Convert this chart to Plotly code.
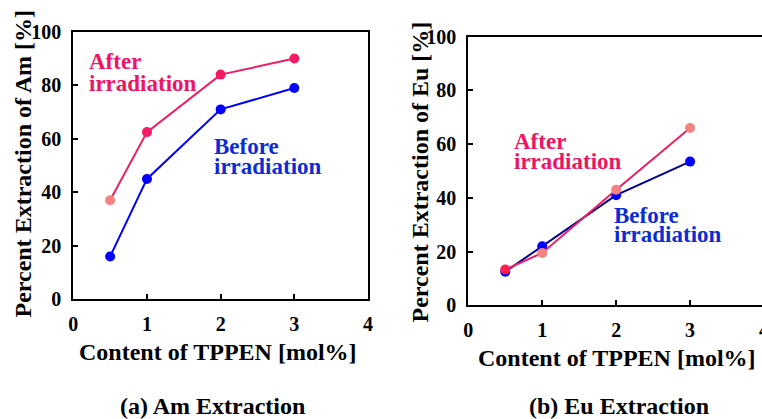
import plotly.graph_objects as go

# TPPEN content [mol%]
content = [0.5, 1, 2, 3]

# Am extraction [%]
am_before = [16, 45, 71, 79]
am_after = [37, 62.5, 84, 90]

# Eu extraction [%]
eu_before = [12.5, 22, 41, 53.5]
eu_after = [13.3, 19.5, 43, 66]

x_ticks = [0, 1, 2, 3, 4]
y_ticks = [0, 20, 40, 60, 80, 100]

PINK = "rgb(240,28,100)"
SALMON = "rgb(244,130,128)"
BLUE = "rgb(0,0,255)"
NAVY = "rgb(0,0,140)"
TXT_PINK = "rgb(238,20,100)"
TXT_BLUE = "rgb(12,44,214)"
FONT = "Liberation Serif, Times New Roman, serif"

W, H = 770, 419


def px(x):
    return x / W


def py(y):
    return 1 - y / H


fig = go.Figure()

# (a) Am panel
fig.add_trace(go.Scatter(
    x=content, y=am_after, mode="lines+markers", xaxis="x", yaxis="y",
    line=dict(color=PINK, width=2),
    marker=dict(size=10, color=[SALMON, PINK, PINK, PINK]),
    showlegend=False))
fig.add_trace(go.Scatter(
    x=content, y=am_before, mode="lines+markers", xaxis="x", yaxis="y",
    line=dict(color=BLUE, width=2),
    marker=dict(size=10, color=BLUE),
    showlegend=False))

# (b) Eu panel
fig.add_trace(go.Scatter(
    x=content, y=eu_before, mode="lines+markers", xaxis="x2", yaxis="y2",
    line=dict(color=NAVY, width=2),
    marker=dict(size=10, color=BLUE),
    showlegend=False))
fig.add_trace(go.Scatter(
    x=content, y=eu_after, mode="lines+markers", xaxis="x2", yaxis="y2",
    line=dict(color=PINK, width=2),
    marker=dict(size=10, color=["rgb(255,30,80)", SALMON, SALMON, SALMON]),
    showlegend=False))

tick_font = dict(family=FONT, size=20, color="black", weight="bold")
axis_common = dict(
    showline=True, linecolor="black", linewidth=2, mirror=True,
    ticks="inside", ticklen=5, tickwidth=1.5, tickcolor="black",
    showgrid=False, zeroline=False, tickfont=tick_font, fixedrange=True,
    automargin=False,
)

fig.update_layout(
    width=W, height=H, autosize=False,
    margin=dict(l=0, r=0, t=0, b=0, pad=0, autoexpand=False),
    paper_bgcolor="white", plot_bgcolor="white",
    xaxis=dict(domain=[px(73.3), px(368)], range=[0, 4], tickvals=x_ticks,
               ticklabelstandoff=6, anchor="y", **axis_common),
    yaxis=dict(domain=[py(299.3), py(31.8)], range=[0, 100], tickvals=y_ticks,
               ticklabelstandoff=6, anchor="x", **axis_common),
    xaxis2=dict(domain=[px(468.3), px(764)], range=[0, 4], tickvals=x_ticks,
                ticklabelstandoff=6, anchor="y2", **axis_common),
    yaxis2=dict(domain=[py(305.3), py(36.7)], range=[0, 100], tickvals=y_ticks,
                ticklabelstandoff=6, anchor="x2", **axis_common),
)

title_font = dict(family=FONT, size=24, color="black", weight="bold")
label_font = dict(family=FONT, size=23, weight="bold")

annotations = [
    # axis titles
    dict(text="Percent Extraction of Am [%]", x=px(22), y=py(164.5), textangle=-90),
    dict(text="Percent Extraction of Eu [%]", x=px(419), y=py(172.5), textangle=-90),
    dict(text="Content of TPPEN [mol%]", x=px(218), y=py(352)),
    dict(text="Content of TPPEN [mol%]", x=px(616.5), y=py(358)),
    # panel captions
    dict(text="(a) Am Extraction", x=px(213), y=py(406)),
    dict(text="(b) Eu Extraction", x=px(619), y=py(406)),
]
for a in annotations:
    a.update(xref="paper", yref="paper", xanchor="center", yanchor="middle",
             showarrow=False, font=title_font)
    fig.add_annotation(**a)

# series labels, one annotation per text line
series_labels = [
    ("x", "y", 0.2, 88.9, "After", TXT_PINK),
    ("x", "y", 0.2, 80.5, "irradiation", TXT_PINK),
    ("x", "y", 1.9, 57.1, "Before", TXT_BLUE),
    ("x", "y", 1.9, 49.5, "irradiation", TXT_BLUE),
    ("x2", "y2", 0.61, 61.0, "After", TXT_PINK),
    ("x2", "y2", 0.61, 53.4, "irradiation", TXT_PINK),
    ("x2", "y2", 1.96, 33.6, "Before", TXT_BLUE),
    ("x2", "y2", 1.96, 26.2, "irradiation", TXT_BLUE),
]
for xr, yr, x, y, t, c in series_labels:
    fig.add_annotation(xref=xr, yref=yr, x=x, y=y, text=t, showarrow=False,
                       xanchor="left", yanchor="middle", borderpad=0,
                       font=dict(color=c, **label_font))

fig.write_html(
    "out.html",
    config={"displayModeBar": False, "responsive": False},
    post_script="document.documentElement.style.overflow='hidden';"
                "document.body.style.overflow='hidden';"
                "document.body.style.margin='0';",
)
